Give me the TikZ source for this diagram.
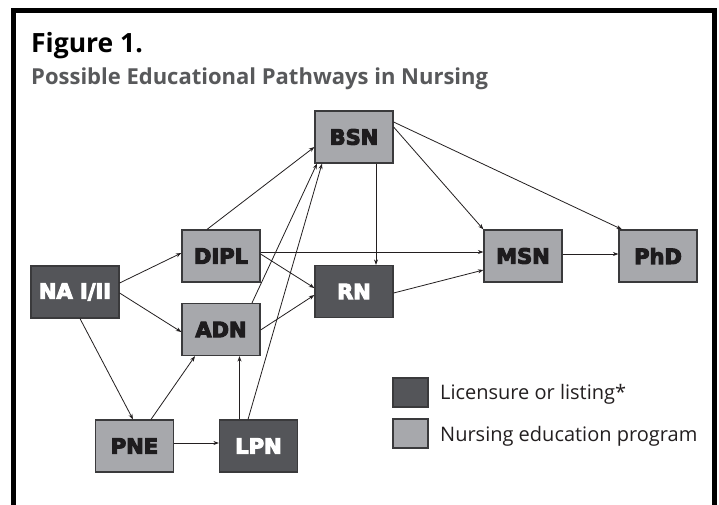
\documentclass[tikz,border=0pt]{standalone}
\usepackage{fontspec}
\setmainfont{Open Sans}
\newfontfamily\labelfont{DejaVu Sans}[UprightFont={* Bold}, FakeBold=5]
\usetikzlibrary{arrows.meta}
\definecolor{darkbox}{RGB}{84,85,89}
\definecolor{lightbox}{RGB}{167,168,172}
\definecolor{boxline}{RGB}{58,58,60}
\definecolor{labeltext}{RGB}{30,28,30}
\definecolor{subgray}{RGB}{88,89,91}
\definecolor{arrowc}{RGB}{35,31,32}
\definecolor{legtext}{RGB}{35,31,32}
\begin{document}
\begin{tikzpicture}[x=1pt,y=-1pt,
  box/.style={draw=boxline, line width=1.2pt, minimum width=78pt, minimum height=52pt, inner sep=0pt,
    font=\labelfont\fontsize{21}{21}\selectfont},
  lic/.style={box, fill=darkbox, text=white},
  edu/.style={box, fill=lightbox, text=labeltext},
  arr/.style={draw=arrowc, line width=0.8pt, -{Stealth[length=5.5pt,width=4pt]}},
  plain/.style={anchor=base west, inner sep=0pt}]
\useasboundingbox (0,0) rectangle (719,504);
\clip (0,0) rectangle (719,504);
\fill[white] (0,0) rectangle (719,504);
% frame
\draw[line width=5pt, line join=miter] (13.5,530) -- (13.5,10.5) -- (714.5,10.5) -- (714.5,530);
% titles
\node[plain, font=\bfseries\fontsize{26.5}{26.5}\selectfont] (title) at (31,52.5) {Figure 1.};
\node[plain, text=subgray, font=\bfseries\fontsize{22}{22}\selectfont] (sub) at (31,84) {Possible Educational Pathways in Nursing};
% boxes
\node[lic, minimum width=88pt] (NA) at (75,292) {NA I/II};
\node[edu] (DIPL) at (221,256) {DIPL};
\node[edu] (ADN) at (221,329.5) {ADN};
\node[edu] (BSN) at (354,137) {BSN};
\node[lic] (RN) at (354,291.5) {RN};
\node[edu] (MSN) at (523,256) {MSN};
\node[edu] (PhD) at (658,256) {PhD};
\node[edu] (PNE) at (134.5,446) {PNE};
\node[lic] (LPN) at (258.5,446) {LPN};
% connectors
\draw[arr] ([yshift=9pt]NA.east) -- ([yshift=3pt]DIPL.west);
\draw[arr] ([yshift=-1pt]NA.east) -- ([yshift=-2.5pt]ADN.west);
\draw[arr] ([xshift=5pt]NA.south) -- ([xshift=-1.5pt]PNE.north);
\draw[arr] ([xshift=-14pt]DIPL.north) -- ([yshift=-10pt]BSN.west);
\draw[arr] ([yshift=4pt]DIPL.east) -- ([yshift=4pt]MSN.west);
\draw[arr] ([yshift=2pt]DIPL.east) -- ([yshift=3.5pt]RN.west);
\draw[arr] ([yshift=-0.5pt]ADN.east) -- ([yshift=-3.5pt]RN.west);
\draw[arr] ([xshift=31pt]ADN.north) -- ([xshift=-37pt]BSN.south);
\draw[arr] ([xshift=-10.5pt]LPN.north) -- ([xshift=-32pt]BSN.south);
\draw[arr] ([xshift=22pt]BSN.south) -- ([xshift=22pt]RN.north);
\draw[arr] ([yshift=10pt]BSN.east) -- (MSN.north west);
\draw[arr] ([yshift=15pt]BSN.east) -- ([xshift=-36pt]PhD.north);
\draw[arr] ([yshift=-1.5pt]RN.east) -- ([yshift=-14pt]MSN.west);
\draw[arr] ([yshift=2pt]MSN.east) -- ([yshift=2pt]PhD.west);
\draw[arr] ([xshift=16.5pt]PNE.north) -- ([xshift=-26pt]ADN.south);
\draw[arr] ([yshift=3pt]PNE.east) -- ([yshift=3pt]LPN.west);
\draw[arr] ([xshift=-19pt]LPN.north) -- ([xshift=18.5pt]ADN.south);
% legend
\node[lic, minimum width=35pt, minimum height=29pt] (legL) at (410.5,392.5) {};
\node[edu, minimum width=35pt, minimum height=29pt] (legE) at (410.5,433.5) {};
\node[plain, text=legtext, font=\fontsize{20}{20}\selectfont] (legLt) at (440,399) {Licensure or listing*};
\node[plain, text=legtext, font=\fontsize{20}{20}\selectfont] (legEt) at (440,441) {Nursing education program};
\end{tikzpicture}
\end{document}
